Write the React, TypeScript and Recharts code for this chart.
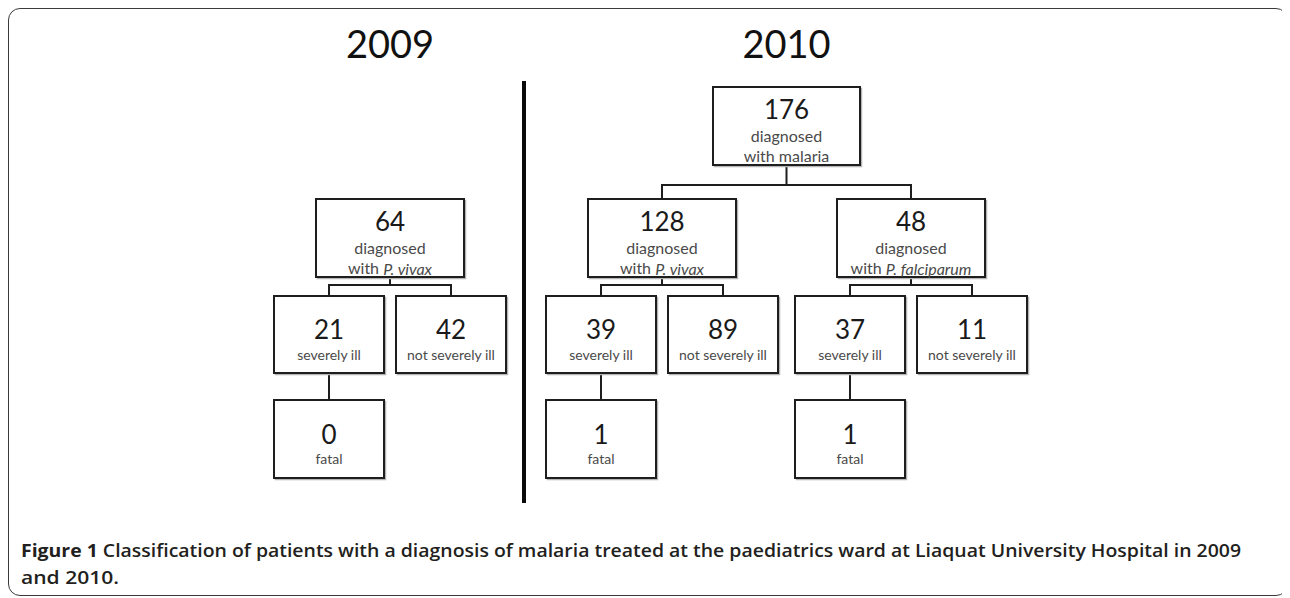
import React from "react";
import { ScatterChart, Scatter, XAxis, YAxis, ReferenceLine } from "recharts";

// one entry per box, in reading order (2009 tree, then 2010 tree)
const nodeIds = ["v09", "v09s", "v09n", "v09f", "m10", "v10", "f10", "v10s", "v10n", "v10f", "f10s", "f10n", "f10f"];
const nodeParents = [null, "v09", "v09", "v09s", null, "m10", "m10", "v10", "v10", "v10s", "f10", "f10", "f10s"];
const nodeYears = [2009, 2009, 2009, 2009, 2010, 2010, 2010, 2010, 2010, 2010, 2010, 2010, 2010];
const nodeCounts = [64, 21, 42, 0, 176, 128, 48, 39, 89, 1, 37, 11, 1];
const nodeKinds = ["species", "severe", "mild", "fatal", "all", "species", "species", "severe", "mild", "fatal", "severe", "mild", "fatal"];
const nodeSpecies = ["P. vivax", "", "", "", "", "P. vivax", "P. falciparum", "", "", "", "", "", ""];

const years = [2009, 2010];
const kindTier: Record<string, number> = { all: 0, species: 1, severe: 2, mild: 2, fatal: 3 };
const kindText: Record<string, string> = {
  all: "with malaria",
  severe: "severely ill",
  mild: "not severely ill",
  fatal: "fatal",
};

const captionBold = "Figure 1";
const captionLine1 = " Classification of patients with a diagnosis of malaria treated at the paediatrics ward at Liaquat University Hospital in 2009";
const captionLine2 = "and 2010.";

// layout
const W = 1280;
const H = 588;
const TIER_TOP = [79, 191, 288, 392];
const TIER_H = [78, 78, 77, 78];
const BOX_W = [147, 148, 110, 110];
const BAR_Y = [177, 277]; // elbow height below tier 0 / tier 1
const LEAF_X0 = 321;
const SIB_STEP = 122;
const FAMILY_STEP = 127;
const YEAR_STEP = 150;
const FONT = "Lato, 'Open Sans', sans-serif";

type Node = {
  id: string;
  parent: string | null;
  year: number;
  count: number;
  kind: string;
  species: string;
  tier: number;
  x: number;
  y: number;
};

const nodes: Node[] = nodeIds.map((id, i) => ({
  id,
  parent: nodeParents[i],
  year: nodeYears[i],
  count: nodeCounts[i],
  kind: nodeKinds[i],
  species: nodeSpecies[i],
  tier: kindTier[nodeKinds[i]],
  x: 0,
  y: 0,
}));

const byId: Record<string, Node> = Object.fromEntries(nodes.map((n) => [n.id, n]));
const childrenOf = (id: string) => nodes.filter((n) => n.parent === id);

// severity boxes laid out left to right, the rest follows from the tree
let prev: Node | null = null;
nodes
  .filter((n) => n.tier === 2)
  .forEach((n) => {
    if (!prev) n.x = LEAF_X0;
    else
      n.x =
        prev.x +
        (n.year !== prev.year ? YEAR_STEP : n.parent !== prev.parent ? FAMILY_STEP : SIB_STEP);
    prev = n;
  });
[1, 0].forEach((t) =>
  nodes
    .filter((n) => n.tier === t)
    .forEach((n) => {
      const kids = childrenOf(n.id).filter((k) => k.tier === t + 1);
      n.x = kids.reduce((s, k) => s + k.x, 0) / kids.length;
    })
);
nodes.filter((n) => n.tier === 3).forEach((n) => (n.x = byId[n.parent as string].x));
nodes.forEach((n) => (n.y = TIER_TOP[n.tier] + TIER_H[n.tier] / 2));

// connector segments in data coordinates
const segments: { x: number; y: number }[][] = [];
nodes.forEach((p) => {
  const kids = childrenOf(p.id);
  if (!kids.length) return;
  const bottom = TIER_TOP[p.tier] + TIER_H[p.tier];
  if (kids.length === 1) {
    segments.push([{ x: p.x, y: bottom }, { x: kids[0].x, y: TIER_TOP[kids[0].tier] }]);
    return;
  }
  const barY = BAR_Y[p.tier];
  const xs = kids.map((k) => k.x);
  segments.push([{ x: p.x, y: bottom }, { x: p.x, y: barY }]);
  segments.push([{ x: Math.min(...xs), y: barY }, { x: Math.max(...xs), y: barY }]);
  kids.forEach((k) => segments.push([{ x: k.x, y: barY }, { x: k.x, y: TIER_TOP[k.tier] }]));
});

const titles = years.map((yr) => {
  const top = nodes.filter((n) => n.year === yr).sort((a, b) => a.tier - b.tier)[0];
  return { x: top.x, y: 35, year: yr };
});

const leaves = nodes.filter((n) => n.tier === 2);
const lastOld = leaves.filter((n) => n.year === years[0]).slice(-1)[0];
const firstNew = leaves.find((n) => n.year === years[1]) as Node;
const dividerX = (lastOld.x + firstNew.x) / 2 - 2;

const renderNode = (props: any) => {
  const { cx, cy, payload } = props;
  const n = payload as Node;
  const w = BOX_W[n.tier];
  const h = TIER_H[n.tier];
  const x0 = cx - w / 2;
  const y0 = cy - h / 2;
  const big = n.tier <= 1;
  return (
    <g>
      <rect x={x0 + 1.5} y={y0 + 1.5} width={w} height={h} fill="none" stroke="#b5b5b5" strokeWidth={1.5} />
      <rect x={x0} y={y0} width={w} height={h} fill="#fff" stroke="#1e1e1e" strokeWidth={2} />
      <text
        x={cx}
        y={big ? cy - 17 : cy - 5.5}
        textAnchor="middle"
        dominantBaseline="central"
        fontFamily={FONT}
        fontSize={26}
        fill="#1a1a1a"
      >
        {n.count}
      </text>
      {big ? (
        <>
          <text x={cx} y={cy + 9.5} textAnchor="middle" dominantBaseline="central" fontFamily={FONT} fontSize={16} fill="#4a4a4a">
            diagnosed
          </text>
          <text x={cx} y={cy + 29.5} textAnchor="middle" dominantBaseline="central" fontFamily={FONT} fontSize={16} fill="#4a4a4a">
            {n.kind === "all" ? (
              kindText.all
            ) : (
              <>
                with <tspan fontStyle="italic">{n.species}</tspan>
              </>
            )}
          </text>
        </>
      ) : (
        <text x={cx} y={cy + 19.5} textAnchor="middle" dominantBaseline="central" fontFamily={FONT} fontSize={14} fill="#4a4a4a">
          {kindText[n.kind]}
        </text>
      )}
    </g>
  );
};

const renderTitle = (props: any) => {
  const { cx, cy, payload } = props;
  return (
    <text x={cx} y={cy} textAnchor="middle" dominantBaseline="central" fontFamily={FONT} fontSize={38} fill="#111">
      {payload.year}
    </text>
  );
};

export default function App() {
  return (
    <div style={{ position: "relative", width: W, height: H }}>
      <div
        style={{
          position: "absolute",
          inset: 0,
          border: "1.5px solid #3a3a3a",
          borderRadius: 12,
          boxSizing: "border-box",
          background: "#fff",
        }}
      />
      <div style={{ position: "absolute", left: 0, top: 0 }}>
        <ScatterChart width={W} height={H} margin={{ top: 0, right: 0, bottom: 0, left: 0 }}>
          <XAxis type="number" dataKey="x" domain={[0, W]} allowDataOverflow hide />
          <YAxis type="number" dataKey="y" domain={[0, H]} allowDataOverflow reversed hide />
          {segments.map((s, i) => (
            <ReferenceLine key={i} segment={s} stroke="#1e1e1e" strokeWidth={2} strokeLinecap="square" />
          ))}
          <ReferenceLine
            segment={[
              { x: dividerX, y: 73 },
              { x: dividerX, y: 495 },
            ]}
            stroke="#0a0a0a"
            strokeWidth={4}
          />
          <Scatter data={nodes} shape={renderNode} isAnimationActive={false} />
          <Scatter data={titles} shape={renderTitle} isAnimationActive={false} />
        </ScatterChart>
      </div>
      <svg width={W} height={H} style={{ position: "absolute", left: 0, top: 0, pointerEvents: "none" }}>
        <text
          x={13}
          y={549}
          fontFamily="'Open Sans', sans-serif"
          fontSize={18.5}
          fill="#231f20"
          textLength={1220}
          lengthAdjust="spacingAndGlyphs"
        >
          <tspan fontWeight={700}>{captionBold}</tspan>
          <tspan fontWeight={600}>{captionLine1}</tspan>
        </text>
        <text
          x={13}
          y={576}
          fontFamily="'Open Sans', sans-serif"
          fontSize={18.5}
          fontWeight={600}
          fill="#231f20"
          textLength={98}
          lengthAdjust="spacingAndGlyphs"
        >
          {captionLine2}
        </text>
      </svg>
    </div>
  );
}
